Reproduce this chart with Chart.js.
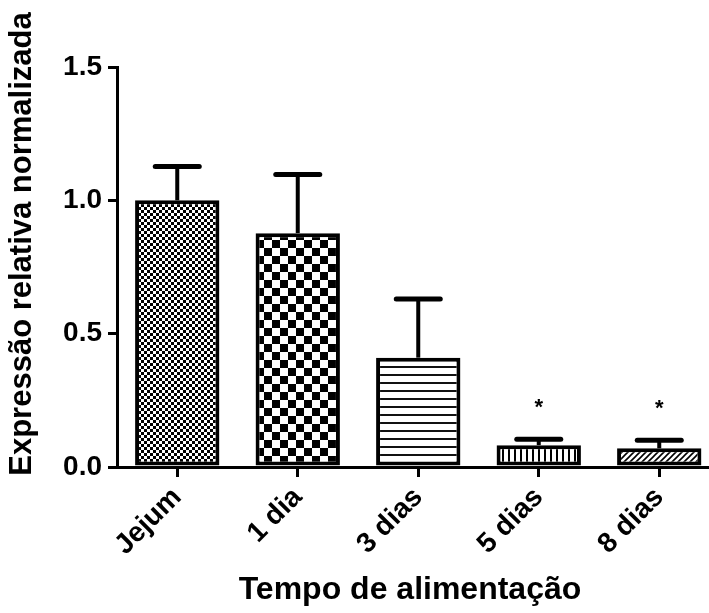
<!DOCTYPE html>
<html>
<head>
<meta charset="utf-8">
<script src="https://cdn.jsdelivr.net/npm/chart.js@4"></script>
<style>
  html, body { margin: 0; padding: 0; background: #fff; overflow: hidden; }
  #wrap { width: 722px; height: 613px; }
</style>
</head>
<body>
<div id="wrap"><canvas id="chart" width="722" height="613"></canvas></div>
<script>
// Expressão relativa por tempo de alimentação (média + EPM)
const categories = ['Jejum', '1 dia', '3 dias', '5 dias', '8 dias'];
const means = [1.0, 0.877, 0.41, 0.082, 0.07];
const sem = [0.127, 0.22, 0.22, 0.022, 0.03];
const signif = ['', '', '', '*', '*'];
const yTitle = 'Expressão relativa normalizada';
const xTitle = 'Tempo de alimentação';

const FONT = "'Liberation Sans', Arial, sans-serif";

// preenchimentos hachurados de cada barra
function makePattern(kind) {
    const c = document.createElement('canvas');
    const g = c.getContext('2d');
    if (kind === 'fineCheck') {
        c.width = 6; c.height = 6;
        g.fillStyle = '#000'; g.fillRect(0, 0, 6, 6);
        g.fillStyle = '#fff';
        g.fillRect(0, 0, 3, 3); g.fillRect(3, 3, 3, 3);
    } else if (kind === 'bigCheck') {
        c.width = 16; c.height = 16;
        g.fillStyle = '#fff'; g.fillRect(0, 0, 16, 16);
        g.fillStyle = '#000';
        g.fillRect(0, 0, 8, 8); g.fillRect(8, 8, 8, 8);
    } else if (kind === 'hLines') {
        c.width = 8; c.height = 8;
        g.fillStyle = '#fff'; g.fillRect(0, 0, 8, 8);
        g.fillStyle = '#111'; g.fillRect(0, 6, 8, 2);
    } else if (kind === 'vLines') {
        c.width = 6; c.height = 6;
        g.fillStyle = '#fff'; g.fillRect(0, 0, 6, 6);
        g.fillStyle = '#000'; g.fillRect(4, 0, 2, 6);
    } else {
        c.width = 6; c.height = 6;
        g.fillStyle = '#fff'; g.fillRect(0, 0, 6, 6);
        g.strokeStyle = '#000'; g.lineWidth = 1.6;
        g.beginPath();
        g.moveTo(-1, 7); g.lineTo(7, -1);
        g.moveTo(-4, 4); g.lineTo(4, -4);
        g.moveTo(2, 10); g.lineTo(10, 2);
        g.stroke();
    }
    return g.createPattern(c, 'repeat');
}

const fills = ['fineCheck', 'bigCheck', 'hLines', 'vLines', 'diag'].map(makePattern);

// barras de erro (só para cima), tampa e asteriscos
const errorBarPlugin = {
    id: 'errorBars',
    afterDatasetsDraw(chart) {
        const ctx = chart.ctx;
        const x = chart.scales.x;
        const y = chart.scales.y;
        ctx.save();
        ctx.strokeStyle = '#000';
        ctx.fillStyle = '#000';
        means.forEach((m, i) => {
            const cx = x.getPixelForValue(i);
            const top = y.getPixelForValue(m + sem[i]);
            const base = y.getPixelForValue(m);
            ctx.lineWidth = 4;
            ctx.beginPath();
            ctx.moveTo(cx, base);
            ctx.lineTo(cx, top);
            ctx.stroke();
            ctx.lineWidth = 5;
            ctx.lineCap = 'round';
            ctx.beginPath();
            ctx.moveTo(cx - 22, top);
            ctx.lineTo(cx + 22, top);
            ctx.stroke();
            ctx.lineCap = 'butt';
            if (signif[i]) {
                ctx.font = 'bold 22px ' + FONT;
                ctx.textAlign = 'center';
                ctx.textBaseline = 'middle';
                ctx.fillText(signif[i], cx, top - 31);
            }
        });
        ctx.restore();
    },
    afterDraw(chart) {
        const ctx = chart.ctx;
        ctx.save();
        ctx.fillStyle = '#000';
        ctx.textAlign = 'center';
        ctx.textBaseline = 'middle';
        ctx.font = 'bold 31px ' + FONT;
        ctx.translate(22, 244);
        ctx.rotate(-Math.PI / 2);
        ctx.fillText(yTitle, 0, 0);
        ctx.restore();
        ctx.save();
        ctx.fillStyle = '#000';
        ctx.textAlign = 'center';
        ctx.textBaseline = 'middle';
        ctx.font = 'bold 32px ' + FONT;
        ctx.fillText(xTitle, 410, 590);
        ctx.restore();
    }
};

new Chart(document.getElementById('chart'), {
    type: 'bar',
    data: {
        labels: categories,
        datasets: [{
            data: means,
            backgroundColor: fills,
            borderColor: '#000',
            borderWidth: 4,
            borderSkipped: false,
            categoryPercentage: 1,
            barPercentage: 0.7
        }]
    },
    options: {
        responsive: false,
        animation: false,
        devicePixelRatio: 1,
        layout: { padding: { top: 67, right: 2.5, left: 0, bottom: 0 } },
        plugins: {
            legend: { display: false },
            tooltip: { enabled: false }
        },
        scales: {
            x: {
                afterFit(scale) { scale.height = 146; },
                border: { color: '#000', width: 3 },
                grid: {
                    offset: false,
                    drawOnChartArea: false,
                    color: '#000',
                    lineWidth: 3,
                    tickLength: 10
                },
                ticks: {
                    color: '#000',
                    font: { family: FONT, size: 28, weight: 'bold' },
                    minRotation: 45,
                    maxRotation: 45,
                    padding: 4
                }
            },
            y: {
                min: 0,
                max: 1.5,
                afterFit(scale) { scale.width = 117; },
                border: { color: '#000', width: 3 },
                grid: {
                    drawOnChartArea: false,
                    color: '#000',
                    lineWidth: 3,
                    tickLength: 9
                },
                ticks: {
                    stepSize: 0.5,
                    color: '#000',
                    padding: 6,
                    font: { family: FONT, size: 28, weight: 'bold' },
                    callback: v => v.toFixed(1)
                }
            }
        }
    },
    plugins: [errorBarPlugin]
});
</script>
</body>
</html>
